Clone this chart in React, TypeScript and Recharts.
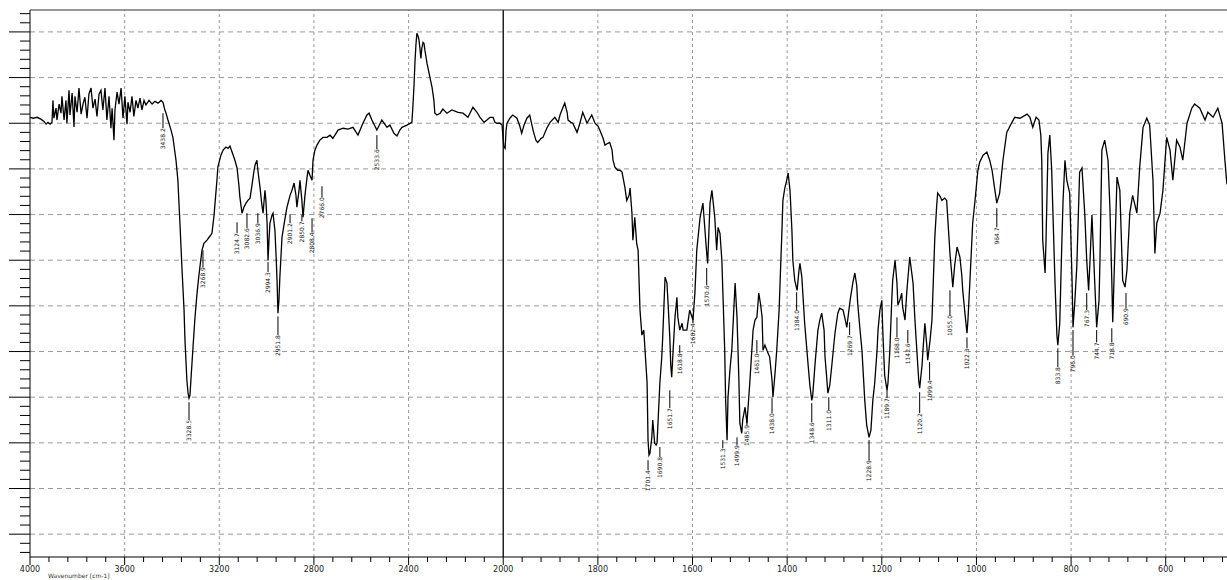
import React from "react";
import { ComposedChart, Line, Scatter, XAxis, YAxis, ReferenceLine } from "recharts";

// wavenumber [cm-1], transmittance (arbitrary %, gridlines every 10)
const highRegion: [number, number][] = [
  [4000, 91.3], [3987, 91.1], [3970, 91.3], [3954, 90.9], [3941, 90.4], [3932, 89.8], [3924, 90.2], [3915, 89.8],
  [3907, 90.2], [3903, 95.0], [3899, 91.1], [3890, 93.3], [3886, 90.7], [3877, 94.2], [3869, 92.2], [3865, 95.9],
  [3856, 90.7], [3848, 95.0], [3844, 90.0], [3835, 97.2], [3831, 91.8], [3822, 96.6], [3814, 89.2], [3810, 95.9],
  [3801, 92.4], [3793, 97.7], [3784, 92.0], [3776, 94.2], [3768, 95.7], [3759, 91.1], [3751, 96.4], [3742, 97.7],
  [3734, 93.3], [3725, 95.3], [3717, 91.5], [3708, 96.4], [3700, 97.2], [3692, 92.9], [3683, 97.7], [3675, 90.7],
  [3666, 95.9], [3658, 88.9], [3653, 93.3], [3645, 86.3], [3641, 92.9], [3632, 96.8], [3624, 94.2], [3615, 97.7],
  [3607, 91.1], [3599, 95.9], [3590, 89.8], [3586, 94.6], [3577, 92.4], [3569, 95.9], [3561, 91.5], [3552, 95.0],
  [3544, 93.3], [3535, 95.5], [3527, 92.9], [3518, 95.0], [3510, 94.0], [3497, 95.0], [3484, 94.2], [3472, 94.8],
  [3459, 94.4], [3446, 95.0], [3438, 94.6], [3430, 92.9],
];

const nhBand: [number, number][] = [
  [3425, 92.2], [3417, 90.7], [3404, 88.5], [3396, 86.9], [3383, 81.9], [3375, 77.5], [3366, 67.7], [3358, 58.5],
  [3349, 49.1], [3345, 42.5], [3337, 33.7], [3332, 30.9], [3328, 29.8], [3324, 30.4], [3320, 33.7], [3311, 41.0],
  [3303, 47.3], [3294, 52.8], [3286, 56.7], [3282, 58.5], [3273, 62.2], [3265, 63.7], [3252, 64.4], [3239, 65.3],
  [3231, 65.9], [3222, 69.9], [3218, 72.5], [3210, 77.5], [3206, 80.4], [3193, 83.0], [3184, 84.1], [3172, 84.8],
  [3163, 84.5], [3155, 85.0], [3146, 83.7], [3134, 81.9], [3125, 80.2], [3117, 76.4], [3113, 73.8], [3104, 70.3],
  [3096, 71.6], [3087, 72.5], [3079, 73.1], [3070, 73.6], [3062, 76.4], [3053, 79.7], [3049, 80.8], [3041, 81.9],
  [3037, 79.7], [3028, 76.0], [3020, 72.1], [3015, 70.3], [3007, 75.3], [3003, 73.1], [2998, 68.1], [2994, 60.0],
  [2990, 64.4], [2986, 68.1], [2977, 69.9], [2973, 70.3], [2965, 66.6], [2960, 61.1], [2956, 55.6], [2952, 48.4],
  [2948, 51.2], [2944, 56.3], [2935, 65.0], [2922, 69.2], [2914, 71.6], [2901, 74.2], [2893, 75.3], [2884, 76.9],
  [2876, 74.2], [2872, 71.6], [2863, 75.3], [2859, 77.5], [2851, 73.1], [2846, 69.4], [2838, 74.2], [2829, 78.2],
  [2825, 79.7], [2817, 78.6], [2808, 77.5], [2804, 81.9], [2796, 84.1], [2787, 85.2], [2775, 86.3],
];

const midRegion: [number, number][] = [
  [2762, 86.9], [2745, 86.9], [2732, 87.4], [2720, 86.7], [2698, 88.5], [2677, 88.9], [2656, 88.7], [2635, 89.1],
  [2614, 87.4], [2593, 90.0], [2576, 91.8], [2567, 92.2], [2555, 90.7], [2534, 88.5], [2513, 90.7], [2491, 89.1],
  [2479, 89.6], [2462, 87.8], [2449, 87.2], [2437, 88.5], [2428, 89.1], [2407, 89.6], [2386, 90.2], [2382, 93.5],
  [2377, 98.3], [2373, 103.4], [2369, 107.1], [2365, 109.7], [2360, 109.1], [2356, 108.2], [2352, 106.4], [2348, 104.2],
  [2344, 106.4], [2339, 107.7], [2335, 107.5], [2331, 106.0], [2322, 103.1], [2310, 100.1], [2301, 97.9], [2293, 95.0],
  [2289, 92.2], [2280, 91.8], [2267, 92.2], [2255, 93.1], [2238, 92.2], [2217, 92.9], [2191, 92.4], [2170, 92.2],
  [2149, 91.3], [2128, 93.5], [2111, 92.4], [2098, 91.3], [2081, 90.2], [2069, 90.7], [2056, 91.3], [2043, 91.3],
  [2035, 90.2], [2027, 90.0], [2014, 90.0], [2005, 89.6],
];

const carbonylRegion: [number, number][] = [
  [2000, 86.3], [1999, 85.0], [1996, 84.5], [1994, 88.5], [1992, 90.0], [1986, 91.1], [1980, 91.8], [1971, 91.1],
  [1965, 89.4], [1961, 87.8], [1956, 89.6], [1950, 91.1], [1944, 91.8], [1937, 88.5], [1931, 86.3], [1927, 85.8],
  [1920, 86.7], [1916, 86.9], [1908, 88.9], [1901, 90.2], [1891, 91.3], [1884, 90.2], [1880, 91.8], [1876, 92.9],
  [1870, 94.4], [1865, 92.4], [1863, 90.7], [1857, 90.2], [1853, 90.0], [1844, 88.0], [1838, 90.0], [1832, 92.4],
  [1827, 91.1], [1823, 90.0], [1817, 91.1], [1813, 91.8], [1806, 90.0], [1800, 89.4], [1796, 88.5], [1789, 86.7],
  [1785, 85.2], [1779, 85.6], [1775, 85.8], [1770, 84.1], [1768, 81.9], [1764, 80.4], [1758, 79.7], [1753, 79.7],
  [1749, 79.3], [1743, 76.0], [1739, 73.1], [1734, 74.2], [1732, 75.8], [1728, 70.3], [1726, 64.4], [1722, 69.4],
  [1718, 63.7], [1715, 62.2], [1711, 49.1], [1707, 43.6], [1703, 44.7], [1699, 38.1], [1696, 33.1], [1694, 20.6],
  [1692, 17.3], [1690, 17.7], [1686, 21.2], [1684, 25.0], [1680, 19.9], [1677, 19.5], [1675, 19.9], [1673, 24.3],
  [1669, 33.1], [1665, 38.8], [1663, 43.1], [1658, 56.3], [1654, 55.0], [1652, 51.2], [1648, 43.1], [1646, 37.0],
  [1644, 34.4], [1641, 40.3], [1637, 47.5], [1633, 51.9], [1631, 47.5], [1627, 44.7], [1622, 46.2], [1620, 44.7],
  [1612, 44.7], [1606, 49.1], [1599, 46.9], [1595, 52.8], [1591, 62.2], [1584, 69.4], [1578, 72.5], [1574, 67.0],
  [1570, 61.5], [1568, 59.3], [1563, 72.5], [1559, 75.3], [1553, 69.4], [1549, 62.2], [1546, 67.2], [1542, 65.9],
  [1538, 60.0], [1534, 46.9], [1532, 40.3], [1530, 29.3], [1527, 20.6], [1525, 30.0], [1521, 35.9], [1517, 40.3],
  [1510, 55.0], [1506, 47.5], [1502, 33.7], [1500, 24.3], [1496, 22.1], [1494, 25.0], [1489, 27.8], [1485, 24.3],
  [1479, 33.1], [1472, 44.7], [1468, 46.9], [1464, 47.5], [1460, 52.8], [1456, 50.2], [1453, 47.5], [1451, 40.3],
  [1447, 41.4], [1443, 40.3], [1437, 38.8], [1432, 33.7], [1430, 30.0], [1426, 34.8], [1422, 40.3], [1417, 49.1],
  [1415, 55.0], [1411, 66.6], [1409, 73.1], [1405, 75.8], [1401, 77.5],
];

const fingerprint: [number, number][] = [
  [1398, 79.1], [1394, 75.3], [1390, 66.6], [1388, 60.0], [1384, 55.6], [1379, 53.4], [1375, 57.8], [1373, 59.3],
  [1369, 56.3], [1363, 46.2], [1356, 37.4], [1352, 32.6], [1348, 29.3], [1346, 30.4], [1341, 37.4], [1335, 44.7],
  [1331, 46.9], [1327, 48.4], [1322, 44.7], [1320, 38.8], [1316, 33.7], [1314, 30.9], [1310, 32.6], [1306, 36.6],
  [1299, 44.0], [1293, 48.4], [1289, 49.5], [1282, 49.1], [1278, 47.3], [1274, 45.3], [1267, 51.2], [1261, 55.2],
  [1257, 57.2], [1253, 54.5], [1251, 50.6], [1246, 44.7], [1242, 40.3], [1236, 29.3], [1232, 23.9], [1227, 21.2],
  [1223, 22.8], [1219, 29.3], [1215, 33.1], [1210, 40.3], [1208, 44.7], [1204, 49.1], [1200, 51.2], [1198, 44.7],
  [1194, 34.8], [1189, 31.5], [1187, 33.1], [1183, 40.3], [1179, 51.2], [1177, 55.6], [1172, 60.0], [1168, 55.0],
  [1166, 50.2], [1162, 51.2], [1158, 52.8], [1156, 49.7], [1151, 46.9], [1147, 53.4], [1141, 60.7], [1134, 55.0],
  [1130, 46.9], [1126, 40.3], [1122, 33.7], [1120, 32.0], [1115, 37.0], [1113, 40.3], [1109, 46.2], [1105, 41.4],
  [1103, 38.1], [1098, 42.5], [1094, 46.9], [1088, 65.0], [1084, 72.0], [1082, 74.7], [1077, 74.0], [1073, 73.1],
  [1067, 73.6], [1063, 73.1], [1056, 61.5], [1052, 56.7], [1050, 54.1], [1046, 58.9], [1041, 62.9], [1035, 60.7],
  [1031, 56.7], [1029, 53.4], [1024, 48.0], [1020, 44.0], [1018, 46.9], [1014, 55.0], [1008, 68.1], [1003, 73.1],
  [997, 79.7], [993, 81.5], [986, 83.0], [978, 83.7], [972, 81.9], [967, 79.7], [961, 75.3], [957, 72.5],
  [951, 74.7], [944, 81.9], [936, 88.0], [925, 90.2], [919, 91.3], [908, 91.1], [893, 92.0], [887, 91.3],
  [881, 89.1], [874, 91.3], [868, 90.7], [864, 87.4], [862, 81.9], [860, 64.4], [855, 57.2], [853, 64.4],
  [849, 83.4], [845, 87.4], [841, 79.7], [839, 72.5], [834, 55.0], [830, 43.6], [828, 41.4], [824, 46.2],
  [820, 62.2], [817, 73.1], [813, 81.9], [809, 77.5], [803, 74.7], [798, 55.6], [796, 45.3], [792, 51.2],
  [788, 58.5], [782, 79.3], [777, 80.2], [771, 69.9], [767, 60.0], [763, 53.4], [760, 60.0], [756, 69.9],
  [750, 55.0], [746, 45.3], [741, 51.2], [739, 60.0], [735, 84.1], [729, 86.3], [722, 81.9], [718, 71.6],
  [714, 55.6], [712, 46.4], [710, 53.4], [703, 78.2], [697, 75.3], [691, 55.6], [686, 54.1], [682, 57.8],
  [676, 70.3], [670, 74.2], [661, 70.3], [655, 80.4], [648, 89.1], [640, 91.1], [634, 89.6], [627, 77.5],
  [623, 61.5], [619, 68.1], [612, 70.3], [606, 75.3], [598, 86.9], [591, 84.1], [585, 77.5], [577, 86.3],
  [570, 84.8], [564, 81.9], [555, 90.0], [545, 93.3], [539, 94.2], [528, 93.3], [517, 90.7], [511, 92.4],
  [500, 91.3], [490, 93.3], [481, 90.0], [475, 81.9], [471, 76.9], [460, 74.2],
];

// peak label, wavenumber, leader top, text start
const peaks: [string, number, number, number][] = [
  ["3438.2", 3438, 92.2, 88.9], ["3328.5", 3328, 28.9, 25.0], ["3268.9", 3269, 62.2, 58.5],
  ["3124.7", 3125, 68.3, 65.9], ["3082.6", 3083, 70.3, 67.0], ["3036.9", 3037, 70.3, 68.1],
  ["2994.3", 2994, 59.6, 57.4], ["2951.8", 2952, 47.7, 43.6], ["2901.2", 2901, 70.1, 68.1],
  ["2850.7", 2851, 69.9, 68.5], ["2808.4", 2808, 69.2, 66.1], ["2766.0", 2766, 76.2, 73.8],
  ["2533.6", 2534, 87.4, 84.3], ["1701.4", 1694, 16.2, 14.0], ["1690.8", 1669, 19.1, 16.9],
  ["1651.7", 1648, 31.5, 27.6], ["1618.8", 1627, 41.4, 39.6], ["1602.4", 1599, 47.3, 46.2],
  ["1570.6", 1570, 58.3, 54.5], ["1531.3", 1536, 20.6, 18.8], ["1499.9", 1506, 21.2, 19.5],
  ["1485.9", 1485, 25.4, 23.9], ["1461.0", 1464, 42.5, 39.6], ["1438.0", 1432, 29.8, 26.5],
  ["1384.0", 1380, 53.0, 49.1], ["1348.6", 1348, 28.7, 24.5], ["1311.0", 1312, 30.0, 27.2],
  ["1269.7", 1268, 46.4, 43.6], ["1228.9", 1227, 20.6, 16.2], ["1189.7", 1189, 31.5, 29.8],
  ["1168.0", 1168, 47.5, 43.1], ["1142.6", 1145, 44.7, 41.8], ["1120.2", 1120, 31.1, 26.5],
  ["1099.4", 1099, 37.7, 33.7], ["1055.0", 1056, 53.4, 48.0], ["1022.3", 1020, 43.1, 40.7],
  ["964.7", 957, 71.4, 67.2], ["833.8", 828, 40.7, 36.6], ["796.0", 796, 44.7, 39.2],
  ["767.3", 767, 52.8, 49.1], ["744.7", 746, 44.7, 42.0], ["718.8", 714, 45.1, 42.0],
  ["690.9", 684, 52.8, 49.5],
];

const xTickLabels = [4000, 3600, 3200, 2800, 2400, 2000, 1800, 1600, 1400, 1200, 1000, 800, 600];
const yGridValues = [0, 10, 20, 30, 40, 50, 60, 70, 80, 90, 100, 110];
const yMin = -5;
const yMax = 114.8;

// x axis is expanded 2x below 2000 cm-1
const toPos = (wn: number) => (wn >= 2000 ? (4000 - wn) / 2 : 3000 - wn);
const toWn = (pos: number) => (pos <= 1000 ? 4000 - pos * 2 : 3000 - pos);

const xMax = toPos(460);
const majorPos = xTickLabels.map(toPos);
const xTicks: number[] = [];
for (let p = 0; p <= 2520; p += 40) xTicks.push(p);
const yTicks: number[] = [];
for (let v = -4; v <= 114; v += 2) yTicks.push(v);

const spectrum = [...highRegion, ...nhBand, ...midRegion, ...carbonylRegion, ...fingerprint].map(
  ([wn, t]) => ({ pos: toPos(wn), t })
);
const peakPoints = peaks.map(([label, wn, , text]) => ({ pos: toPos(wn), t: text, label }));

const XTick = ({ x, y, payload }: any) => {
  const major = majorPos.includes(payload.value);
  return (
    <g>
      <line x1={x} x2={x} y1={y} y2={y + (major ? 8 : 5)} stroke="#000" strokeWidth={1} />
      {major && (
        <text x={x} y={y + 15} textAnchor="middle" fontSize={8} fontFamily="DejaVu Sans" fill="#222">
          {toWn(payload.value)}
        </text>
      )}
    </g>
  );
};

const YTick = ({ x, y, payload }: any) => {
  const major = payload.value % 10 === 0;
  return <line x1={x} x2={x - (major ? 21 : 10)} y1={y} y2={y} stroke="#000" strokeWidth={1} />;
};

const PeakText = ({ cx, cy, payload }: any) => (
  <text
    x={cx + 2}
    y={cy}
    transform={`rotate(-90 ${cx + 2} ${cy})`}
    textAnchor="end"
    fontSize={6}
    fontFamily="DejaVu Sans"
    fill="#111"
  >
    {payload.label}
  </text>
);

export default function App() {
  return (
    <div
      style={{ position: "absolute", left: 0, top: 0, width: 1227, height: 580, overflow: "hidden", background: "#fff" }}
    >
      <ComposedChart width={1240} height={580} margin={{ top: 10, right: 8, bottom: 0, left: 0 }}>
        <XAxis
          type="number"
          dataKey="pos"
          domain={[0, xMax]}
          allowDataOverflow
          ticks={xTicks}
          interval={0}
          tickSize={0}
          tickMargin={0}
          tick={<XTick />}
          height={23}
          axisLine={{ stroke: "#000" }}
        />
        <YAxis
          type="number"
          dataKey="t"
          domain={[yMin, yMax]}
          allowDataOverflow
          ticks={yTicks}
          interval={0}
          tickSize={0}
          tickMargin={0}
          tick={<YTick />}
          width={30}
          axisLine={{ stroke: "#000" }}
        />
        {yGridValues.map((v) => (
          <ReferenceLine key={"h" + v} y={v} stroke="#999" strokeDasharray="5 4" />
        ))}
        {majorPos
          .filter((p) => p !== 0 && p !== 1000)
          .map((p) => (
            <ReferenceLine key={"v" + p} x={p} stroke="#999" strokeDasharray="3 3" />
          ))}
        <ReferenceLine x={1000} stroke="#000" strokeWidth={1.3} />
        <ReferenceLine y={yMax} stroke="#333" />
        {peaks.map(([label, wn, top, text]) => (
          <ReferenceLine
            key={"l" + label}
            segment={[
              { x: toPos(wn), y: top },
              { x: toPos(wn), y: text },
            ]}
            stroke="#000"
          />
        ))}
        <Line
          data={spectrum}
          dataKey="t"
          type="linear"
          stroke="#000"
          strokeWidth={1.3}
          dot={false}
          isAnimationActive={false}
        />
        <Scatter data={peakPoints} dataKey="t" shape={<PeakText />} isAnimationActive={false} />
      </ComposedChart>
      <div
        style={{
          position: "absolute",
          left: 48,
          top: 572,
          fontSize: 6,
          lineHeight: "7px",
          fontFamily: "DejaVu Sans",
          color: "#333",
        }}
      >
        Wavenumber [cm-1]
      </div>
    </div>
  );
}
